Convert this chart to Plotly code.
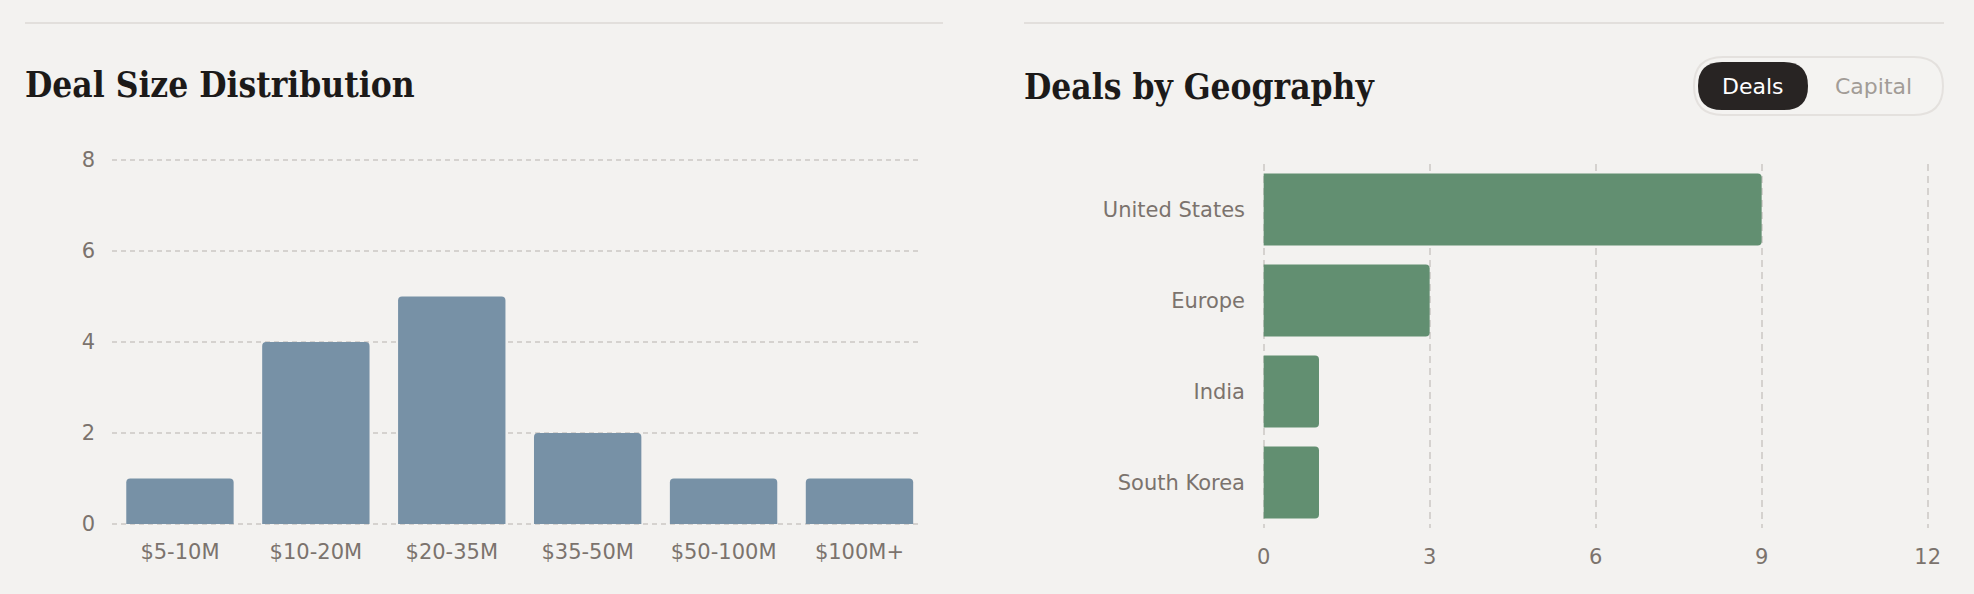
import plotly.graph_objects as go

W, H = 1974, 594

# data
size_buckets = ["$5-10M", "$10-20M", "$20-35M", "$35-50M", "$50-100M", "$100M+"]
size_counts = [1, 4, 5, 2, 1, 1]

regions = ["United States", "Europe", "India", "South Korea"]
region_deals = [9, 3, 1, 1]

BG = "#f3f2f0"
GRID = "#d5d2cf"
TICK = "#7b736d"
SANS = "DejaVu Sans, sans-serif"
TICK_FONT = dict(family=SANS, size=21, color=TICK)


def px(x):
    return x / W


def py(y):
    return 1 - y / H


def pill(x0, y0, x1, y1, r):
    # rounded rectangle as an svg path in paper coords
    pts = [
        f"M {px(x0 + r)} {py(y0)}",
        f"L {px(x1 - r)} {py(y0)}",
        f"Q {px(x1)} {py(y0)} {px(x1)} {py(y0 + r)}",
        f"L {px(x1)} {py(y1 - r)}",
        f"Q {px(x1)} {py(y1)} {px(x1 - r)} {py(y1)}",
        f"L {px(x0 + r)} {py(y1)}",
        f"Q {px(x0)} {py(y1)} {px(x0)} {py(y1 - r)}",
        f"L {px(x0)} {py(y0 + r)}",
        f"Q {px(x0)} {py(y0)} {px(x0 + r)} {py(y0)}",
        "Z",
    ]
    return " ".join(pts)


fig = go.Figure()

fig.add_trace(go.Bar(
    x=size_buckets, y=size_counts,
    marker=dict(color="#7791a6", cornerradius=4, line=dict(width=0)),
    xaxis="x", yaxis="y", hoverinfo="x+y",
))

fig.add_trace(go.Bar(
    x=region_deals, y=regions, orientation="h",
    marker=dict(color="#628f71", cornerradius=4, line=dict(width=0)),
    xaxis="x2", yaxis="y2", hoverinfo="x+y",
))

common = dict(zeroline=False, showline=False, ticks="", automargin=False,
              tickfont=TICK_FONT, fixedrange=True)

# ranges padded a hair so the edge grid lines are drawn
fig.update_layout(
    width=W, height=H,
    margin=dict(l=0, r=0, t=0, b=0),
    paper_bgcolor=BG, plot_bgcolor=BG,
    showlegend=False,
    bargap=0.21,
    xaxis=dict(
        domain=[px(112), px(922)], anchor="y", range=[-0.5, 5.46],
        showgrid=False, ticklabelstandoff=12, **common,
    ),
    yaxis=dict(
        domain=[py(525.4), py(158.6)], anchor="x", range=[-0.03, 8.03],
        tickvals=[0, 2, 4, 6, 8],
        showgrid=True, gridcolor=GRID, griddash="5px,4px", gridwidth=1.5,
        ticklabelstandoff=16, **common,
    ),
    xaxis2=dict(
        domain=[px(1262), px(1929.3)], anchor="y2", range=[-0.03, 12.03],
        tickvals=[0, 3, 6, 9, 12],
        showgrid=True, gridcolor=GRID, griddash="7px,5px", gridwidth=1.5,
        ticklabelstandoff=14, **common,
    ),
    yaxis2=dict(
        domain=[py(528), py(164)], anchor="x2",
        categoryorder="array", categoryarray=regions, range=[3.5, -0.5],
        showgrid=False, ticklabelstandoff=16, **common,
    ),
)

# separators above each card
for x0, x1 in [(25, 943), (1024, 1944)]:
    fig.add_shape(type="line", xref="paper", yref="paper",
                  x0=px(x0), x1=px(x1), y0=py(23), y1=py(23),
                  line=dict(color="#e2dfdc", width=2))

# toggle pill
fig.add_shape(type="path", xref="paper", yref="paper",
              path=pill(1694, 57, 1943, 115, 29),
              fillcolor="#f4f3f1", line=dict(color="#e4e1de", width=2))
fig.add_shape(type="path", xref="paper", yref="paper",
              path=pill(1698, 62, 1808, 110, 24),
              fillcolor="#282423", line=dict(width=0))

TITLE_FONT = dict(family="DejaVu Serif Condensed, DejaVu Serif, serif", size=35, color="#1c1a19")
fig.add_annotation(text="<b>Deal Size Distribution</b>", xref="paper", yref="paper",
                   x=px(23), y=py(85), xanchor="left", yanchor="middle",
                   showarrow=False, font=TITLE_FONT)
fig.add_annotation(text="<b>Deals by Geography</b>", xref="paper", yref="paper",
                   x=px(1022), y=py(87), xanchor="left", yanchor="middle",
                   showarrow=False, font=TITLE_FONT)

fig.add_annotation(text="Deals", xref="paper", yref="paper",
                   x=px(1753), y=py(86), xanchor="center", yanchor="middle",
                   showarrow=False,
                   font=dict(family=SANS, size=22, color="#ffffff"))
fig.add_annotation(text="Capital", xref="paper", yref="paper",
                   x=px(1873), y=py(86), xanchor="center", yanchor="middle",
                   showarrow=False,
                   font=dict(family=SANS, size=22, color="#a29c97"))

fig.write_html("out.html", config={"displayModeBar": False},
               post_script="document.body.style.margin='0';"
                           "document.body.style.background='%s';" % BG)
